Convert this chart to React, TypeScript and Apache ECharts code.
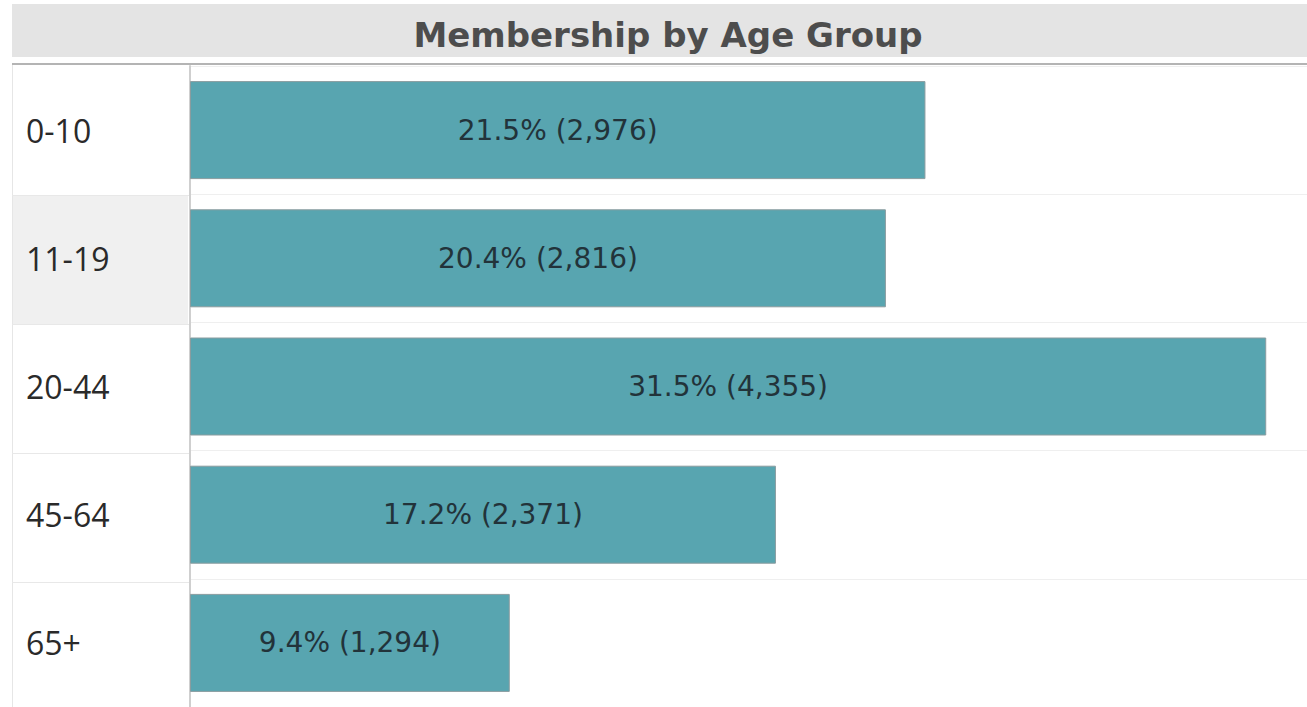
import React, { useEffect, useRef } from "react";
import * as echarts from "echarts";

const categories = ["0-10", "11-19", "20-44", "45-64", "65+"];
const counts = [2976, 2816, 4355, 2371, 1294];
const percents = [21.5, 20.4, 31.5, 17.2, 9.4];
const title = "Membership by Age Group";

const W = 1307;
const H = 707;
const GRID_LEFT = 190;
const GRID_TOP = 66;
const ROW_H = 129;
const LABEL_COL_LEFT = 12;

export default function App() {
  const ref = useRef<HTMLDivElement>(null);
  useEffect(() => {
    if (!ref.current) return;
    const chart = echarts.init(ref.current, undefined, { renderer: "svg" });
    const gridH = ROW_H * categories.length;
    const fmt = (n: number) => n.toLocaleString("en-US");
    const graphics: any[] = [
      { type: "rect", shape: { x: LABEL_COL_LEFT, y: 4, width: W - LABEL_COL_LEFT, height: 53 }, style: { fill: "#e4e4e4" }, z: 0 },
      { type: "rect", shape: { x: LABEL_COL_LEFT, y: 63, width: W - LABEL_COL_LEFT, height: 2 }, style: { fill: "#b4b4b4" }, z: 0 },
      { type: "text", x: 668, y: 35, style: { text: title, fill: "#4d4d4d", font: "bold 34px 'DejaVu Sans', Verdana, sans-serif", textAlign: "center", textVerticalAlign: "middle" }, z: 5 },
      // highlighted label cell for the second row
      { type: "rect", shape: { x: LABEL_COL_LEFT, y: GRID_TOP + ROW_H, width: GRID_LEFT - 2 - LABEL_COL_LEFT, height: ROW_H }, style: { fill: "#f0f0f0" }, z: -1 },
      { type: "line", shape: { x1: LABEL_COL_LEFT + 0.5, y1: 65, x2: LABEL_COL_LEFT + 0.5, y2: H }, style: { stroke: "#e6e6e6", lineWidth: 1 }, z: 0 },
    ];
    for (let i = 1; i < categories.length; i++) {
      graphics.push({ type: "line", shape: { x1: LABEL_COL_LEFT, y1: GRID_TOP + ROW_H * i + 0.5, x2: GRID_LEFT, y2: GRID_TOP + ROW_H * i + 0.5 }, style: { stroke: "#e8e8e8", lineWidth: 1 }, z: 0 });
    }
    chart.setOption({
      animation: false,
      backgroundColor: "#ffffff",
      grid: { left: GRID_LEFT, right: 0, top: GRID_TOP, height: gridH, containLabel: false },
      xAxis: { type: "value", min: 0, max: 4520, show: false },
      yAxis: {
        type: "category",
        data: categories,
        inverse: true,
        axisLine: { show: true, lineStyle: { color: "#cfcfcf", width: 2 } },
        axisTick: { show: false },
        splitLine: { show: true, lineStyle: { color: "#efefef", width: 1 } },
        axisLabel: {
          align: "left",
          margin: GRID_LEFT - 26,
          color: "#2a2a2a",
          fontSize: 32,
          fontFamily: "'Open Sans', 'Noto Sans', sans-serif",
        },
      },
      series: [
        {
          type: "bar",
          data: counts,
          barWidth: 98,
          itemStyle: { color: "#58a5b0", borderColor: "#8a9c9f", borderWidth: 1 },
          label: {
            show: true,
            position: "inside",
            color: "#22333a",
            fontSize: 28,
            fontFamily: "'DejaVu Sans', Verdana, sans-serif",
            formatter: (p: any) => `${percents[p.dataIndex].toFixed(1)}% (${fmt(counts[p.dataIndex])})`,
          },
        },
      ],
      graphic: graphics,
    });
    return () => chart.dispose();
  }, []);
  return <div ref={ref} style={{ position: "fixed", left: 0, top: 0, width: W, height: H }} />;
}
